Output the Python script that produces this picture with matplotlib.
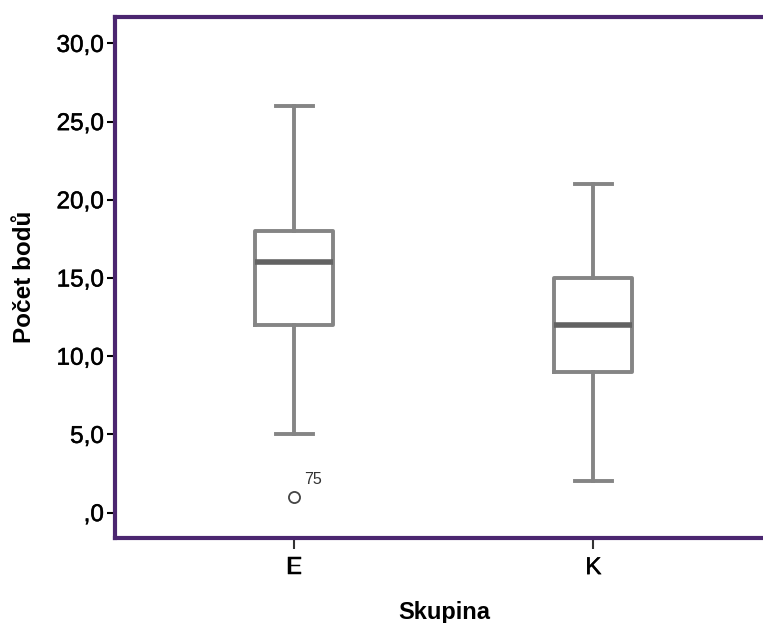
import matplotlib.pyplot as plt
import matplotlib.patheffects as pe
from matplotlib.ticker import FuncFormatter

# hodnoty
skupiny = ["E", "K"]
whislo = [5, 2]
q1 = [12, 9]
med = [16, 12]
q3 = [18, 15]
whishi = [26, 21]
outliers = [[1], []]
outlier_ids = [["75"], []]

plt.rcParams['font.family'] = ['Liberation Sans', 'DejaVu Sans']

fig = plt.figure(figsize=(7.63, 6.23), dpi=100)
ax = fig.add_axes([0.1507, 0.137, 0.862, 0.836])

stats = []
for i in range(len(skupiny)):
    stats.append(dict(med=med[i], q1=q1[i], q3=q3[i], whislo=whislo[i],
                      whishi=whishi[i], fliers=outliers[i], label=skupiny[i]))

gray = '#858585'
ax.bxp(stats, positions=range(len(skupiny)), widths=0.26, showfliers=True,
       boxprops=dict(color=gray, linewidth=2.8),
       whiskerprops=dict(color=gray, linewidth=2.8),
       capprops=dict(color=gray, linewidth=2.8),
       medianprops=dict(color='#626262', linewidth=4),
       flierprops=dict(marker='o', markerfacecolor='white', markeredgecolor='#444444',
                       markersize=8, markeredgewidth=1.3),
       capwidths=0.125)

for i, (vals, ids) in enumerate(zip(outliers, outlier_ids)):
    for v, t in zip(vals, ids):
        ax.annotate(t, (i, v), xytext=(7, 9), textcoords='offset points',
                    fontsize=11.5, color='#333333')

ax.set_xlim(-0.6, 1.6)
ax.set_ylim(-1.6, 31.7)
ax.set_yticks([0, 5, 10, 15, 20, 25, 30])

def fmt(v, pos):
    s = f"{v:.1f}".replace('.', ',')
    return s[1:] if s.startswith('0') else s

ax.yaxis.set_major_formatter(FuncFormatter(fmt))
ax.tick_params(axis='y', labelsize=17.5, length=6, width=1.5, color='black', pad=2)
ax.tick_params(axis='x', labelsize=17.5, length=8, width=1.5, color='#333333', pad=6)
# trochu tučnější popisky os jako v SPSS
for lab in ax.get_xticklabels() + ax.get_yticklabels():
    lab.set_path_effects([pe.withStroke(linewidth=0.35, foreground='black')])

for s in ax.spines.values():
    s.set_color('#4b2670')
    s.set_linewidth(3)

ax.set_ylabel("Počet bodů", fontsize=17.5, fontweight='bold', labelpad=15)
ax.set_xlabel("Skupina", fontsize=17, fontweight='bold')
ax.xaxis.set_label_coords(0.5, -0.122)

fig.savefig("out.png", dpi=100)
